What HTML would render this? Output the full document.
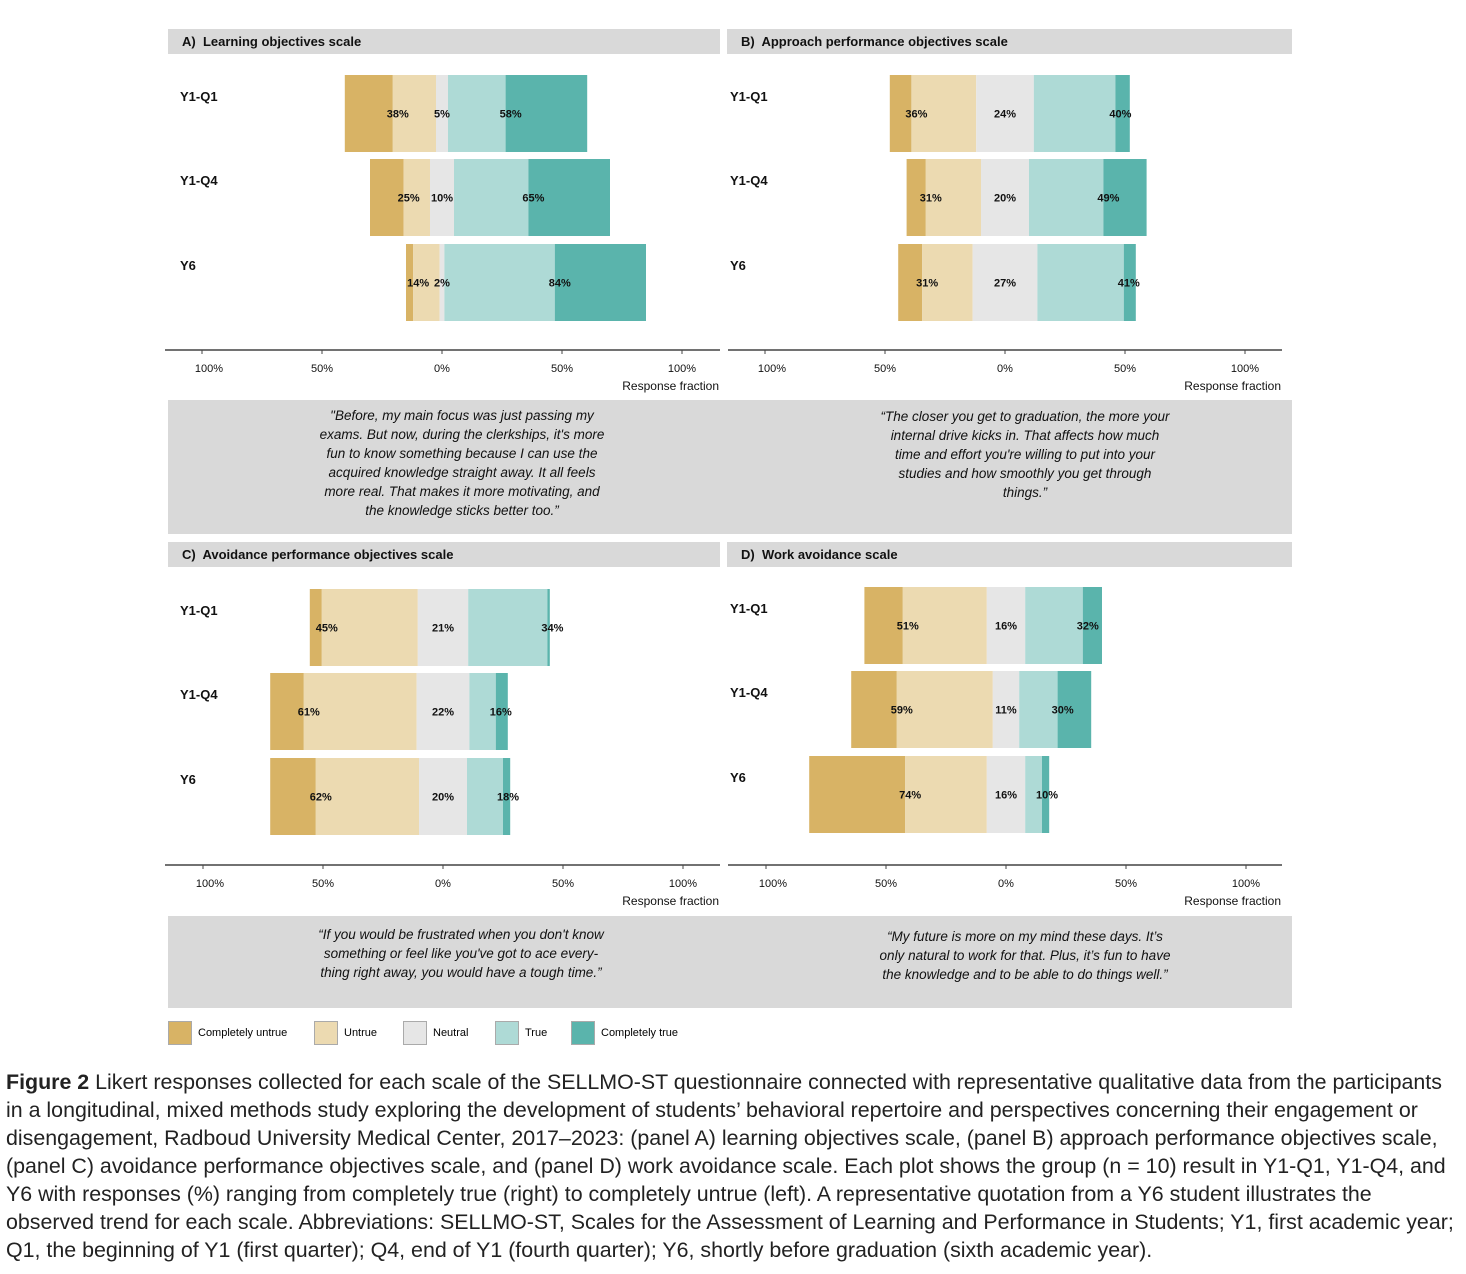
<!DOCTYPE html>
<html><head><meta charset="utf-8">
<style>
body{margin:0;background:#fff;font-family:"Liberation Sans",sans-serif;}
#wrap{position:relative;width:1466px;height:1274px;overflow:hidden;}
.hdr{position:absolute;height:25px;background:#d9d9d9;font-weight:bold;font-size:13px;line-height:25px;padding-left:14px;box-sizing:border-box;color:#111;}
.quote{position:absolute;background:#d9d9d9;font-style:italic;font-size:13.5px;line-height:19px;text-align:center;color:#111;}
.quote div{position:absolute;white-space:nowrap;}
.cap{position:absolute;left:6px;top:1068px;font-size:21.4px;line-height:28px;color:#222;white-space:nowrap;}
.leg{position:absolute;top:1021px;font-size:11px;line-height:25px;}
.leg span{display:inline-block;width:24px;height:24px;vertical-align:middle;margin-right:6px;border:1px solid #aaa;box-sizing:border-box;}
</style></head><body>
<div id="wrap">
<div class="hdr" style="left:168px;top:29px;width:552px">A)&nbsp; Learning objectives scale</div>
<div class="hdr" style="left:727px;top:29px;width:565px">B)&nbsp; Approach performance objectives scale</div>
<div class="hdr" style="left:168px;top:542px;width:552px">C)&nbsp; Avoidance performance objectives scale</div>
<div class="hdr" style="left:727px;top:542px;width:565px">D)&nbsp; Work avoidance scale</div>

<div class="quote" style="left:168px;top:400px;width:1124px;height:134px">
<div style="left:94px;top:6px;width:400px">"Before, my main focus was just passing my<br>exams. But now, during the clerkships, it's more<br>fun to know something because I can use the<br>acquired knowledge straight away. It all feels<br>more real. That makes it more motivating, and<br>the knowledge sticks better too.”</div>
<div style="left:657px;top:7px;width:400px">“The closer you get to graduation, the more your<br>internal drive kicks in. That affects how much<br>time and effort you're willing to put into your<br>studies and how smoothly you get through<br>things.”</div>
</div>
<div class="quote" style="left:168px;top:916px;width:1124px;height:92px">
<div style="left:93px;top:9px;width:400px">“If you would be frustrated when you don't know<br>something or feel like you've got to ace every-<br>thing right away, you would have a tough time.”</div>
<div style="left:657px;top:11px;width:400px">“My future is more on my mind these days. It’s<br>only natural to work for that. Plus, it’s fun to have<br>the knowledge and to be able to do things well.”</div>
</div>

<div class="leg" style="left:168px"><span style="background:#d8b365"></span>Completely untrue</div>
<div class="leg" style="left:314px"><span style="background:#ecdab1"></span>Untrue</div>
<div class="leg" style="left:403px"><span style="background:#e6e6e6"></span>Neutral</div>
<div class="leg" style="left:495px"><span style="background:#aedad6"></span>True</div>
<div class="leg" style="left:571px"><span style="background:#5ab4ac"></span>Completely true</div>

<div class="cap"><b>Figure 2</b> Likert responses collected for each scale of the SELLMO-ST questionnaire connected with representative qualitative data from the participants<br>in a longitudinal, mixed methods study exploring the development of students’ behavioral repertoire and perspectives concerning their engagement or<br>disengagement, Radboud University Medical Center, 2017–2023: (panel A) learning objectives scale, (panel B) approach performance objectives scale,<br>(panel C) avoidance performance objectives scale, and (panel D) work avoidance scale. Each plot shows the group (n = 10) result in Y1-Q1, Y1-Q4, and<br>Y6 with responses (%) ranging from completely true (right) to completely untrue (left). A representative quotation from a Y6 student illustrates the<br>observed trend for each scale. Abbreviations: SELLMO-ST, Scales for the Assessment of Learning and Performance in Students; Y1, first academic year;<br>Q1, the beginning of Y1 (first quarter); Q4, end of Y1 (fourth quarter); Y6, shortly before graduation (sixth academic year).</div>

<svg id="chart" width="1466" height="1274" style="position:absolute;left:0;top:0;pointer-events:none"></svg>
</div>
<script>
const categories = ["Y1-Q1","Y1-Q4","Y6"];
const levels = ["Completely untrue","Untrue","Neutral","True","Completely true"];
const panelA = [[20,18,5,24,34],[14,11,10,31,34],[3,11,2,46,38]];
const panelB = [[9,27,24,34,6],[8,23,20,31,18],[10,21,27,36,5]];
const panelC = [[5,40,21,33,1],[14,47,22,11,5],[19,43,20,15,3]];
const panelD = [[16,35,16,24,8],[19,40,11,16,14],[40,34,16,7,3]];
const tickValues = [-100,-50,0,50,100];
const tickLabels = ["100%","50%","0%","50%","100%"];
const colors = ["#d8b365","#ecdab1","#e6e6e6","#aedad6","#5ab4ac"];
const NS="http://www.w3.org/2000/svg";
const svg=document.getElementById('chart');
function mk(tag,attrs,parent){const e=document.createElementNS(NS,tag);for(const k in attrs)e.setAttribute(k,attrs[k]);(parent||svg).appendChild(e);return e;}
const panels=[
 {id:'a',data:panelA,zero:442,rowTop:[75,159,244],axisY:350,ax0:165,ax1:720,labX:180},
 {id:'b',data:panelB,zero:1005,rowTop:[75,159,244],axisY:350,ax0:728,ax1:1282,labX:730},
 {id:'c',data:panelC,zero:443,rowTop:[589,673,758],axisY:865,ax0:165,ax1:720,labX:180},
 {id:'d',data:panelD,zero:1006,rowTop:[587,671,756],axisY:865,ax0:728,ax1:1282,labX:730}];
const pxPer=2.4, barH=77;
panels.forEach(p=>{
 const x=v=>p.zero+v*pxPer;
 const g=mk('g',{});
 
 
 p.data.forEach((row,ri)=>{
  const y=p.rowTop[ri];
  let start=-(row[0]+row[1]+row[2]/2);
  let cu=0;
  row.forEach((v,ci)=>{
   const r=mk('rect',{x:x(start+cu),y:y,width:v*pxPer,height:barH,fill:colors[ci]},g);
   
   
   cu+=v;
  });
  const lab=mk('text',{x:p.labX,y:y+26,'font-size':13,'font-weight':'bold','font-family':'Liberation Sans, sans-serif',fill:'#111'},g);
  lab.textContent=categories[ri];
  
  
  const ty=y+barH/2+4;
  const tp={'font-size':11,'font-weight':'bold','font-family':'Liberation Sans, sans-serif','text-anchor':'middle',fill:'#111'};
  const l1=mk('text',Object.assign({x:x(start+row[0])+5,y:ty},tp),g);l1.textContent=(row[0]+row[1])+'%';
  
  
  const l2=mk('text',Object.assign({x:x(0),y:ty},tp),g);l2.textContent=row[2]+'%';
  
  
  const l3=mk('text',Object.assign({x:x(start+row[0]+row[1]+row[2]+row[3])+5,y:ty},tp),g);l3.textContent=(row[3]+row[4])+'%';
  
  
 });
 const ax=mk('line',{x1:p.ax0,x2:p.ax1,y1:p.axisY,y2:p.axisY,stroke:'#444','stroke-width':1.5},g);
 
 
 tickValues.forEach((t,i)=>{
  mk('line',{x1:x(t),x2:x(t),y1:p.axisY,y2:p.axisY+4,stroke:'#444'},g);
  const tl=mk('text',{x:x(t)+(t===-100?7:0),y:p.axisY+22,'font-size':11,'font-family':'Liberation Sans, sans-serif','text-anchor':'middle',fill:'#111'},g);
  tl.textContent=tickLabels[i];
  
  
 });
 const at=mk('text',{x:p.ax1-1,y:p.axisY+40,'font-size':12,'font-family':'Liberation Sans, sans-serif','text-anchor':'end',fill:'#111'},g);
 at.textContent='Response fraction';
 
 
});
</script>
</body></html>
